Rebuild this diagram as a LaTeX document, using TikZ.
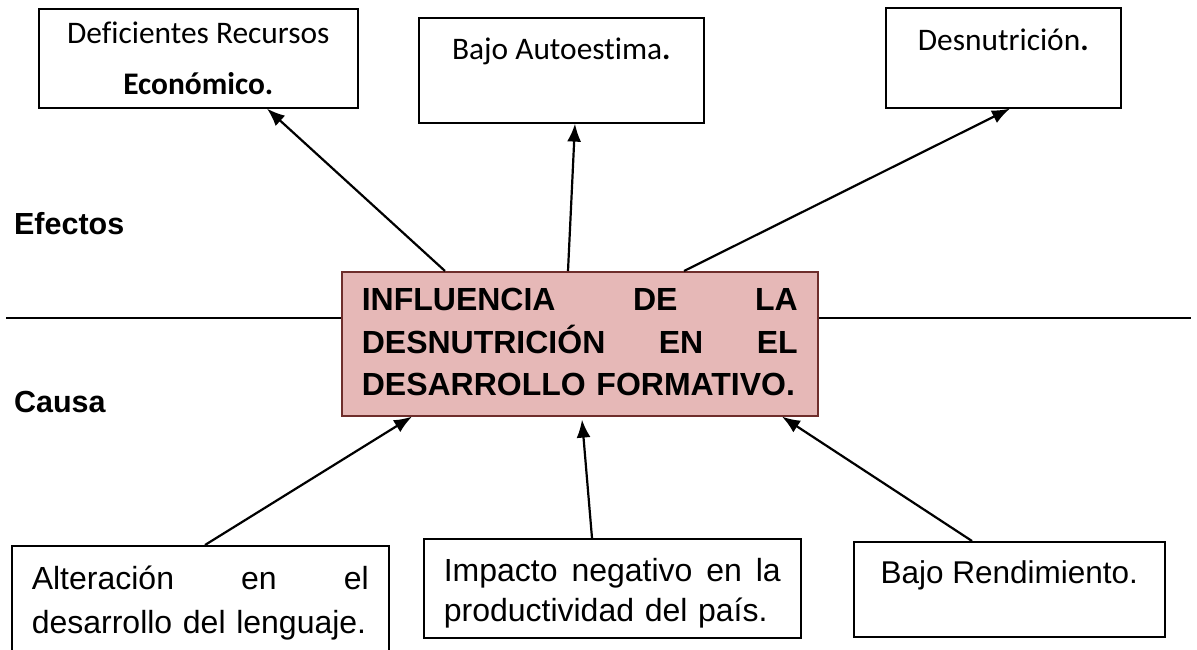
\documentclass[tikz,border=0pt]{standalone}
\usepackage{fontspec}
\setmainfont{Liberation Sans}
\newfontfamily\calibri[Ligatures=NoCommon]{Carlito}
\usetikzlibrary{arrows.meta}

\definecolor{rosa}{RGB}{230,184,183}
\definecolor{borde}{RGB}{110,45,43}
\newcommand{\linea}[1]{\noindent\hbox to\linewidth{#1}}

\begin{document}
\begin{tikzpicture}[x=1pt,y=-1pt,->,>={Latex[length=18pt,width=14pt]},
                    line width=2.2pt]

  \tikzstyle{caja}=[rectangle,draw,line width=1.6pt,anchor=north west,inner sep=0pt]
  \tikzstyle{efecto}=[caja,align=center,font=\calibri\fontsize{31.4}{51}\selectfont]
  \tikzstyle{causa}=[caja,inner xsep=20pt,text width=337pt,align=left,
                     font=\fontsize{32}{44}\selectfont]
  \tikzstyle{titulo}=[anchor=base west,inner sep=0pt,font=\bfseries\fontsize{30.5}{36}\selectfont]

  \useasboundingbox (0,0) rectangle (1197,649);

  \coordinate (izq) at (6,318);
  \coordinate (der) at (1191,318);
  \draw[-,line width=1.6pt] (izq) -- (der);

  \node[titulo] (efectos) at (13,234) {Efectos};
  \node[titulo] (causas)  at (13,412) {Causa};

  % efectos
  \node[efecto,minimum width=319pt,text height=86pt,text depth=13pt] (recursos) at (38,8)
       {Deficientes Recursos\\\textbf{Económico.}};
  \node[efecto,minimum width=285pt,text height=42pt,text depth=63pt] (autoestima) at (418,17)
       {Bajo Autoestima\textbf{.}};
  \node[efecto,minimum width=235pt,text height=43pt,text depth=57pt] (desnutricion) at (885,7)
       {Desnutrición\textbf{.}};

  % problema
  \node[caja,draw=borde,fill=rosa,inner xsep=20pt,text width=436pt,align=left,
        text height=39pt,text depth=105pt,
        font=\bfseries\fontsize{32}{42.5}\selectfont] (problema) at (341,271)
       {\linea{INFLUENCIA\hfill DE\hfill LA}\\
        \linea{DESNUTRICIÓN\hfill EN\hfill EL}\\
        \linea{DESARROLLO FORMATIVO.\hfil}};

  % causas
  \node[causa,text height=44pt,text depth=100pt] (lenguaje) at (11,545)
       {\linea{Alteración\hfill en\hfill el}\\\linea{desarrollo del lenguaje.\hfil}};
  \node[causa,text height=43pt,text depth=56pt,
        font=\fontsize{32}{40}\selectfont] (impacto) at (423,538)
       {\linea{Impacto\hfill negativo\hfill en\hfill la}\\\linea{productividad del país.\hfil}};
  \node[caja,minimum width=311pt,text height=42pt,text depth=53pt,
        font=\fontsize{31.5}{40}\selectfont] (rendimiento) at (853,541)
       {Bajo Rendimiento.};

  \path
  ([xshift=104pt]problema.north west) edge ([xshift=229pt]recursos.south west)
  ([xshift=227pt]problema.north west) edge ([xshift=157pt]autoestima.south west)
  ([xshift=343pt]problema.north west) edge ([xshift=125pt]desnutricion.south west)

  ([xshift=194pt]lenguaje.north west)    edge ([xshift=71pt]problema.south west)
  ([xshift=169pt]impacto.north west)     edge ([xshift=241pt,yshift=-3pt]problema.south west)
  ([xshift=119pt]rendimiento.north west) edge ([xshift=441pt]problema.south west)
  ;
\end{tikzpicture}
\end{document}
